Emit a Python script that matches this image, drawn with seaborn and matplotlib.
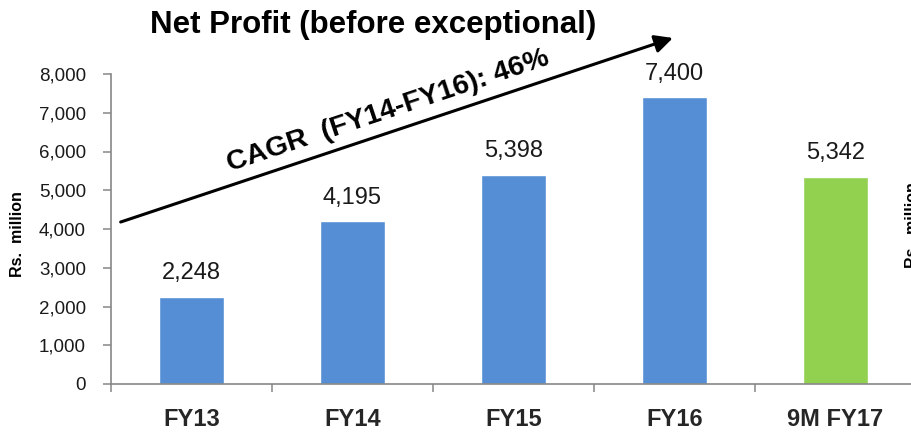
import matplotlib
matplotlib.use("Agg")
import matplotlib.pyplot as plt
import seaborn as sns
import pandas as pd

# Net profit before exceptional items, Rs. million
categories = ["FY13", "FY14", "FY15", "FY16", "9M FY17"]
values = [2248, 4195, 5398, 7400, 5342]
value_labels = ["2,248", "4,195", "5,398", "7,400", "5,342"]
bar_colors = ["#558ED5", "#558ED5", "#558ED5", "#558ED5", "#92D050"]
yticks = [0, 1000, 2000, 3000, 4000, 5000, 6000, 7000, 8000]
ytick_labels = ["0", "1,000", "2,000", "3,000", "4,000", "5,000", "6,000", "7,000", "8,000"]

sns.set_theme(style="white")
plt.rcParams["font.family"] = ["Liberation Sans", "DejaVu Sans"]

W, H = 912, 432
fig = plt.figure(figsize=(W / 100, H / 100), dpi=100)
ax = fig.add_axes([111 / W, (H - 384) / H, (916 - 111) / W, (384 - 74) / H])

df = pd.DataFrame({"period": categories, "profit": values})
sns.barplot(data=df, x="period", y="profit", hue="period", palette=bar_colors,
            width=0.4, legend=False, ax=ax, saturation=1)

ax.set_xlim(-0.5, 4.5)
ax.set_ylim(0, 8000)
ax.set_yticks(yticks)
ax.set_yticklabels(ytick_labels, fontsize=13.5, color="#1a1a1a")
ax.set_xlabel("")
ax.set_ylabel("")

# category boundaries carry the tick marks, labels sit at the centres
ax.set_xticks([i - 0.5 for i in range(len(categories) + 1)])
ax.set_xticklabels([])
ax.set_xticks(range(len(categories)), minor=True)
ax.set_xticklabels(categories, minor=True, fontsize=17, fontweight="bold")
ax.tick_params(axis="x", which="major", direction="out", length=6, width=1.1,
               color="#868686", bottom=True)
ax.tick_params(axis="x", which="minor", length=0, pad=17)
ax.tick_params(axis="y", direction="out", length=6, width=1.1, color="#868686",
               left=True, pad=12)

for side in ["top", "right"]:
    ax.spines[side].set_visible(False)
for side in ["left", "bottom"]:
    ax.spines[side].set_color("#868686")
    ax.spines[side].set_linewidth(1.2)

for i, (v, lab) in enumerate(zip(values, value_labels)):
    ax.annotate(lab, (i, v), xytext=(0, 9), textcoords="offset points",
                ha="center", va="bottom", fontsize=17, color="#1a1a1a")

# growth arrow with CAGR annotation
ax.annotate("", xy=(2.99, 8930), xytext=(-0.44, 4180),
            arrowprops=dict(arrowstyle="-|>,head_length=0.9,head_width=0.45",
                            color="black", lw=2.2, shrinkA=0, shrinkB=0),
            annotation_clip=False)
ax.text(1.22, 7050, "CAGR  (FY14-FY16): 46%", rotation=18.5, rotation_mode="anchor",
        ha="center", va="center", fontsize=20.5, fontweight="bold", color="black")

fig.text(373 / W, 1 - 25 / H, "Net Profit (before exceptional)", ha="center",
         va="center", fontsize=22.5, fontweight="bold", color="black")
fig.text(18 / W, 1 - 234 / H, "Rs.  million", rotation=90, ha="center", va="center",
         fontsize=11.5, fontweight="bold", color="black")
# neighbouring panel's axis title, running off the right edge
fig.text(905 / W, 1 - 225 / H, "Rs.  million", rotation=90, ha="left", va="center",
         fontsize=11.5, fontweight="bold", color="black")

fig.savefig("out.png", dpi=100)
